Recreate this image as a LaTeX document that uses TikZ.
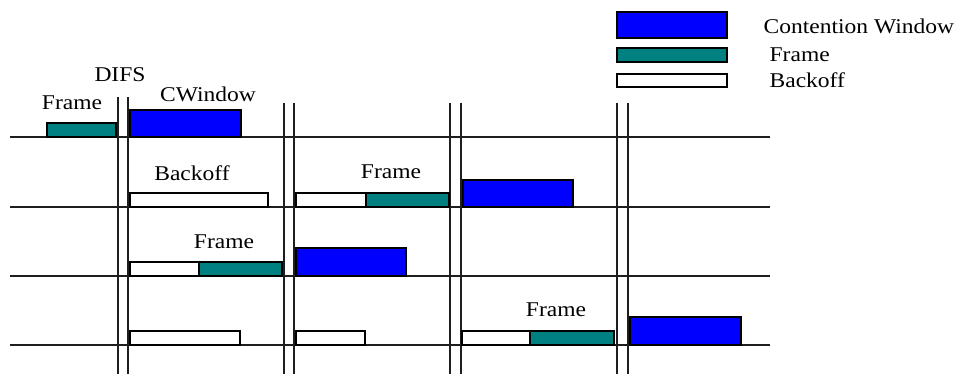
\documentclass[tikz,border=0pt]{standalone}
\usepackage{fontspec}
\setmainfont[FakeStretch=1.12]{Liberation Serif}
\usepackage{tikz}
\definecolor{cw_blue}{RGB}{0,0,255}
\definecolor{frame_teal}{RGB}{0,128,128}
\definecolor{line_gray}{RGB}{30,30,30}

\begin{document}
\begin{tikzpicture}[x=1pt,y=-1pt,line width=1.3pt]
    \tikzstyle{slot}=[draw=line_gray]
    \tikzstyle{cw}=[draw=black, fill=cw_blue]
    \tikzstyle{frm}=[draw=black, fill=frame_teal]
    \tikzstyle{bko}=[draw=black, fill=white]
    \tikzstyle{lbl}=[inner sep=0pt, text=black, font=\fontsize{21}{24}\selectfont]
    \useasboundingbox (0,0) rectangle (954,374);

    % stations
    \draw[slot] (10,137) -- (770,137);
    \draw[slot] (10,207) -- (770,207);
    \draw[slot] (10,276) -- (770,276);
    \draw[slot] (10,345) -- (770,345);

    % DIFS boundaries
    \draw[slot] (118,97) -- (118,374);   \draw[slot] (128,97) -- (128,374);
    \draw[slot] (284,103) -- (284,374);  \draw[slot] (294,103) -- (294,374);
    \draw[slot] (450,103) -- (450,374);  \draw[slot] (461,103) -- (461,374);
    \draw[slot] (617,103) -- (617,374);  \draw[slot] (628,103) -- (628,374);

    % station 1
    \draw[frm] (47,123) rectangle (116,137);
    \draw[cw]  (130,110) rectangle (241,137);
    % station 2
    \draw[bko] (130,193) rectangle (268,207);
    \draw[bko] (296,193) rectangle (366,207);
    \draw[frm] (366,193) rectangle (449,207);
    \draw[cw]  (463,180) rectangle (573,207);
    % station 3
    \draw[bko] (130,262) rectangle (199,276);
    \draw[frm] (199,262) rectangle (282,276);
    \draw[cw]  (296,248) rectangle (406,276);
    % station 4
    \draw[bko] (130,331) rectangle (240,345);
    \draw[bko] (296,331) rectangle (365,345);
    \draw[bko] (462,331) rectangle (530,345);
    \draw[frm] (530,331) rectangle (614,345);
    \draw[cw]  (630,317) rectangle (741,345);

    \node[lbl] (difs)   at (120,75)  {DIFS};
    \node[lbl] (f1)     at (72,103)  {Frame};
    \node[lbl] (cwin)   at (208,94)  {CWindow};
    \node[lbl] (b2)     at (192,173) {Backoff};
    \node[lbl] (f2)     at (391,172) {Frame};
    \node[lbl] (f3)     at (224,242) {Frame};
    \node[lbl] (f4)     at (556,310) {Frame};

    % legend
    \draw[cw]  (617,12) rectangle (727,38);
    \draw[frm] (617,48) rectangle (727,62);
    \draw[bko] (617,74) rectangle (727,87);
    \node[lbl,anchor=west] (lcw)  at (763,26) {Contention Window};
    \node[lbl,anchor=west] (lfrm) at (769,55) {Frame};
    \node[lbl,anchor=west] (lbko) at (769,80) {Backoff};
\end{tikzpicture}
\end{document}
